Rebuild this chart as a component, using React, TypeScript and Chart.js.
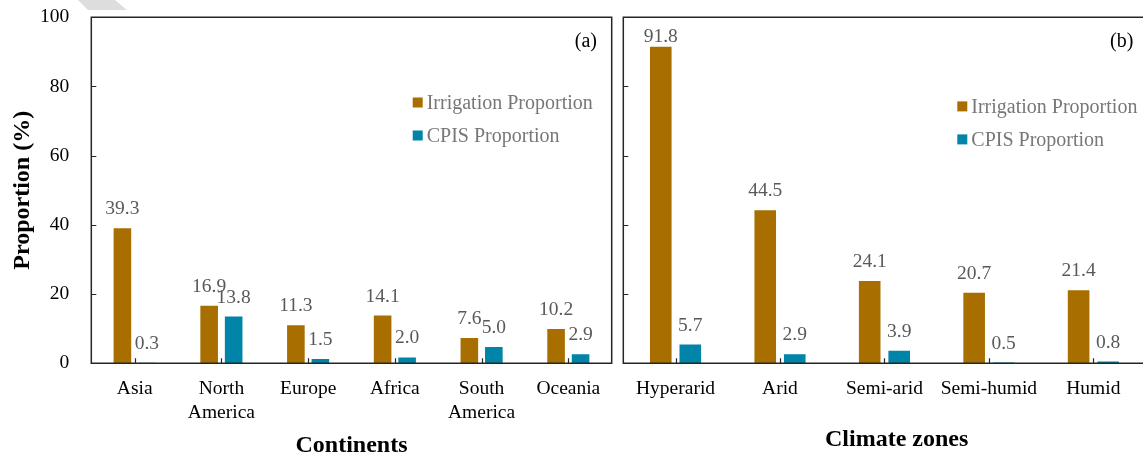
import React, { useEffect, useRef } from "react";
import { Chart, registerables } from "chart.js";
Chart.register(...registerables);

// ---- data ----
const continents: (string | string[])[] = ["Asia", ["North", "America"], "Europe", "Africa", ["South", "America"], "Oceania"];
const continentIrrigation = [39.3, 16.9, 11.3, 14.1, 7.6, 10.2];
const continentCPIS = [0.3, 13.8, 1.5, 2.0, 5.0, 2.9];

const climateZones = ["Hyperarid", "Arid", "Semi-arid", "Semi-humid", "Humid"];
const climateIrrigation = [91.8, 44.5, 24.1, 20.7, 21.4];
const climateCPIS = [5.7, 2.9, 3.9, 0.5, 0.8];

const yTickValues = [0, 20, 40, 60, 80, 100];
const seriesNames = ["Irrigation Proportion", "CPIS Proportion"];
const seriesColors = ["#A86F00", "#0084A8"];

const FAMILY = '"Liberation Serif", "Times New Roman", Times, serif';

type PanelCfg = {
  left: number;
  width: number;
  padTop: number;
  padRight: number;
  yWidth: number;
  xHeight: number;
  showYLabels: boolean;
  letter: string;
  letterDx: number;
  legendDx: number;
  legendDy: number;
  xTitle: string;
  xTitleDx: number;
  xTitleY: number;
  yTitle?: string;
  watermark?: boolean;
};

const decorPlugin = {
  id: "panelDecor",
  afterDatasetsDraw(chart: any, _args: any, o: any) {
    const { ctx, chartArea: a } = chart;
    const xs = chart.scales.x;
    const ys = chart.scales.y;
    ctx.save();

    // data labels
    ctx.font = `19.5px ${FAMILY}`;
    ctx.fillStyle = "#595959";
    ctx.textAlign = "center";
    ctx.textBaseline = "alphabetic";
    chart.data.datasets.forEach((ds: any, i: number) => {
      const meta = chart.getDatasetMeta(i);
      meta.data.forEach((el: any, j: number) => {
        const v = ds.data[j] as number;
        const y = Math.max(el.y - 13, a.top + 25);
        ctx.fillText(v.toFixed(1), el.x, y);
      });
    });

    // frame
    ctx.strokeStyle = "#262626";
    ctx.lineWidth = 1.5;
    ctx.beginPath();
    ctx.rect(a.left, a.top, a.right - a.left, a.bottom - a.top);
    ctx.stroke();

    // inward ticks
    ctx.lineWidth = 1.2;
    ctx.beginPath();
    yTickValues.forEach((v) => {
      if (v === ys.min || v === ys.max) return;
      const y = Math.round(ys.getPixelForValue(v)) + 0.5;
      ctx.moveTo(a.left, y);
      ctx.lineTo(a.left + 5, y);
    });
    chart.data.labels.forEach((_l: any, i: number) => {
      const x = Math.round(xs.getPixelForValue(i)) + 0.5;
      ctx.moveTo(x, a.bottom);
      ctx.lineTo(x, a.bottom - 5);
    });
    ctx.stroke();

    // legend
    ctx.font = `20px ${FAMILY}`;
    ctx.textAlign = "left";
    chart.data.datasets.forEach((ds: any, i: number) => {
      const cy = a.top + o.legendDy + i * 33;
      const sx = a.right + o.legendDx;
      ctx.fillStyle = ds.backgroundColor;
      ctx.fillRect(sx, cy - 5, 10, 10);
      ctx.fillStyle = "#777777";
      ctx.fillText(ds.label, sx + 14, cy + 6.6);
    });

    // panel letter
    ctx.fillStyle = "#000";
    ctx.textAlign = "right";
    ctx.fillText(o.letter, a.right + o.letterDx, a.top + 30);

    // x title
    ctx.font = `bold 24px ${FAMILY}`;
    ctx.textAlign = "center";
    ctx.fillText(o.xTitle, (a.left + a.right) / 2 + o.xTitleDx, o.xTitleY);

    // y title
    if (o.yTitle) {
      ctx.save();
      ctx.translate(29, (a.top + a.bottom) / 2);
      ctx.rotate(-Math.PI / 2);
      ctx.fillText(o.yTitle, 0, 0);
      ctx.restore();
    }

    // light grey mark at top-left of the page
    if (o.watermark) {
      ctx.fillStyle = "#dddddd";
      ctx.beginPath();
      ctx.moveTo(78, 0);
      ctx.lineTo(115, 0);
      ctx.lineTo(127, 10);
      ctx.lineTo(88, 10);
      ctx.closePath();
      ctx.fill();
    }
    ctx.restore();
  },
};

function makeChart(canvas: HTMLCanvasElement, labels: any[], irr: number[], cpis: number[], cfg: PanelCfg) {
  return new Chart(canvas, {
    type: "bar",
    data: {
      labels,
      datasets: [
        {
          label: seriesNames[0],
          data: irr,
          backgroundColor: seriesColors[0],
          borderColor: "rgba(255,255,255,0.45)",
          borderWidth: 1,
          categoryPercentage: 0.565,
          barPercentage: 0.8,
        },
        {
          label: seriesNames[1],
          data: cpis,
          backgroundColor: seriesColors[1],
          borderColor: "rgba(255,255,255,0.45)",
          borderWidth: 1,
          categoryPercentage: 0.565,
          barPercentage: 0.8,
        },
      ],
    },
    options: {
      responsive: false,
      animation: false,
      layout: { padding: { top: cfg.padTop, right: cfg.padRight, bottom: 0, left: 0 } },
      plugins: {
        legend: { display: false },
        tooltip: { enabled: false },
        panelDecor: cfg,
      } as any,
      scales: {
        x: {
          type: "category",
          offset: true,
          grid: { display: false, drawTicks: false },
          border: { display: false },
          ticks: {
            color: "#000",
            padding: 14,
            maxRotation: 0,
            autoSkip: false,
            font: { family: FAMILY, size: 19.5, lineHeight: 1.2 },
          },
          afterFit: (s: any) => {
            s.height = cfg.xHeight;
            s.paddingLeft = 0;
            s.paddingRight = 0;
          },
        },
        y: {
          min: 0,
          max: 100,
          grid: { display: false, drawTicks: false },
          border: { display: false },
          ticks: {
            display: cfg.showYLabels,
            stepSize: 20,
            color: "#000",
            padding: 22,
            font: { family: FAMILY, size: 19.5 },
          },
          afterFit: (s: any) => {
            s.width = cfg.yWidth;
            s.paddingTop = 0;
            s.paddingBottom = 0;
          },
        },
      },
    } as any,
    plugins: [decorPlugin as any],
  });
}

const leftCfg: PanelCfg = {
  left: 0,
  width: 617,
  padTop: 17.3,
  padRight: 5.3,
  yWidth: 91.3,
  xHeight: 90.7,
  showYLabels: true,
  letter: "(a)",
  letterDx: -14.7,
  legendDx: -199,
  legendDy: 85.2,
  xTitle: "Continents",
  xTitleDx: 0,
  xTitleY: 451.5,
  yTitle: "Proportion (%)",
  watermark: true,
};

const rightCfg: PanelCfg = {
  left: 615,
  width: 540,
  padTop: 17.3,
  padRight: 9.4,
  yWidth: 8.3,
  xHeight: 90.7,
  showYLabels: false,
  letter: "(b)",
  letterDx: -12.3,
  legendDx: -188.3,
  legendDy: 89.1,
  xTitle: "Climate zones",
  xTitleDx: 12.2,
  xTitleY: 446,
};

export default function App() {
  const leftRef = useRef<HTMLCanvasElement>(null);
  const rightRef = useRef<HTMLCanvasElement>(null);

  useEffect(() => {
    const c1 = makeChart(leftRef.current!, continents, continentIrrigation, continentCPIS, leftCfg);
    const c2 = makeChart(rightRef.current!, climateZones, climateIrrigation, climateCPIS, rightCfg);
    return () => {
      c1.destroy();
      c2.destroy();
    };
  }, []);

  return (
    <div
      style={{
        position: "absolute",
        left: 0,
        top: 0,
        width: 1143,
        height: 454,
        overflow: "hidden",
        background: "#fff",
      }}
    >
      <canvas
        ref={leftRef}
        width={leftCfg.width}
        height={454}
        style={{ position: "absolute", left: leftCfg.left, top: 0, width: leftCfg.width, height: 454 }}
      />
      <canvas
        ref={rightRef}
        width={rightCfg.width}
        height={454}
        style={{ position: "absolute", left: rightCfg.left, top: 0, width: rightCfg.width, height: 454 }}
      />
    </div>
  );
}
